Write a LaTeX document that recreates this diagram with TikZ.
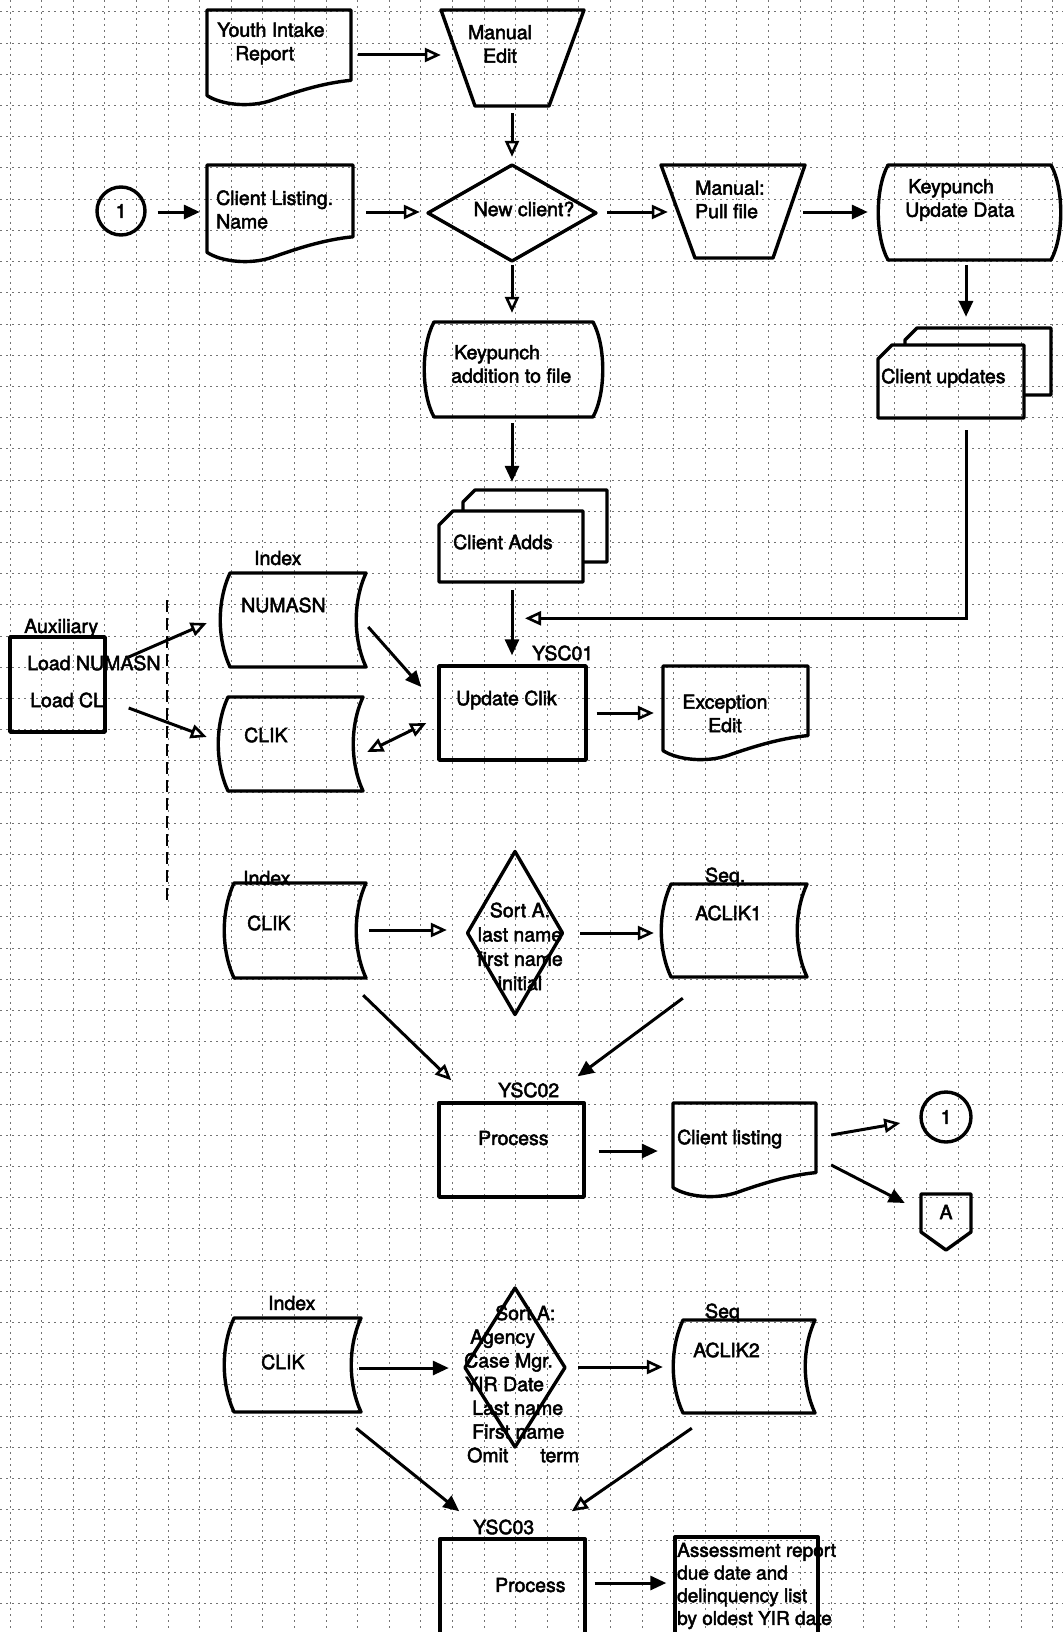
\documentclass[tikz,border=0pt]{standalone}
\usepackage{fontspec}
\setmainfont[FakeBold=2.5]{TeX Gyre Heros}
\usetikzlibrary{arrows.meta,calc}
\newcommand\docshape[5]{%
 \node[box, minimum width={#4-#2}, minimum height={#5-#3}] (#1) at ({(#2+#4)/2},{(#3+#5)/2}) {};
 \draw[ln] (#2,{#3+0.9*(#5-#3)}) -- (#2,#3) -- (#4,#3) -- (#4,{#3+0.74*(#5-#3)})
  .. controls ({#2+0.8*(#4-#2)},{#3+0.77*(#5-#3)}) and ({#2+0.62*(#4-#2)},{#3+0.86*(#5-#3)}) .. ({#2+0.45*(#4-#2)},{#3+0.95*(#5-#3)})
  .. controls ({#2+0.3*(#4-#2)},{#3+1.03*(#5-#3)}) and ({#2+0.1*(#4-#2)},{#3+1.0*(#5-#3)}) .. cycle;}
\newcommand\trapshape[7]{%
 \node[box, minimum width={#3-#2}, minimum height={#7-#4}] (#1) at ({(#2+#3)/2},{(#4+#7)/2}) {};
 \draw[ln] (#2,#4) -- (#3,#4) -- (#6,#7) -- (#5,#7) -- cycle;}
\newcommand\barrelshape[5]{%
 \node[box, minimum width={#4-#2}, minimum height={#5-#3}] (#1) at ({(#2+#4)/2},{(#3+#5)/2}) {};
 \draw[ln] ({#2+10},#3) -- ({#4-10},#3) .. controls ({#4+3},{#3+0.25*(#5-#3)}) and ({#4+3},{#3+0.75*(#5-#3)}) .. ({#4-10},#5)
  -- ({#2+10},#5) .. controls ({#2-3},{#3+0.75*(#5-#3)}) and ({#2-3},{#3+0.25*(#5-#3)}) .. cycle;}
\newcommand\storeshape[5]{%
 \node[box, minimum width={#4-#2}, minimum height={#5-#3}] (#1) at ({(#2+#4)/2},{(#3+#5)/2}) {};
 \draw[ln] ({#2+10},#3) -- (#4,#3) .. controls ({#4-13},{#3+0.3*(#5-#3)}) and ({#4-13},{#3+0.7*(#5-#3)}) .. (#4,#5)
  -- ({#2+10},#5) .. controls ({#2-3},{#3+0.7*(#5-#3)}) and ({#2-3},{#3+0.3*(#5-#3)}) .. cycle;}
\newcommand\cardshape[9]{%
 \node[box, minimum width={#4-#6}, minimum height={#9-#3}] (#1) at ({(#6+#4)/2},{(#3+#9)/2}) {};
 \draw[ln] (#6,{#7+14}) -- ({#6+14},#7) -- (#8,#7) -- (#8,#9) -- (#6,#9) -- cycle;
 \draw[ln] (#2,#7) -- (#2,{#3+12}) -- ({#2+12},#3) -- (#4,#3) -- (#4,#5) -- (#8,#5);}
\newcommand\diamshape[5]{%
 \node[box, minimum width={2*#4}, minimum height={2*#5}] (#1) at (#2,#3) {};
 \draw[ln] (#2,{#3-#5}) -- ({#2+#4},#3) -- (#2,{#3+#5}) -- ({#2-#4},#3) -- cycle;}
\begin{document}
\begin{tikzpicture}[x=1pt,y=-1pt,
  ln/.style={line width=3.4pt, line join=round},
  box/.style={draw=none, inner sep=0pt, rectangle},
  txt/.style={inner sep=0pt, font=\fontsize{19.5}{23.5}\selectfont, align=left},
  arr/.style={line width=3pt, -{Triangle[length=16pt,width=14pt]}},
  arro/.style={line width=3pt, -{Triangle[open,length=16pt,width=14pt,line width=2.6pt]}},
  gridln/.style={black!55, line width=1pt, dash pattern=on 2pt off 4pt}]
\useasboundingbox (0,0) rectangle (1063,1632);
\fill[white] (0,0) rectangle (1063,1632);
% graph paper
\foreach \i in {0,...,33} \draw[gridln] ({10+31.6*\i},0) -- ({10+31.6*\i},1632);
\foreach \j in {0,...,52} \draw[gridln] (0,{12+31.2*\j}) -- (1063,{12+31.2*\j});
\draw[line width=2.4pt, dash pattern=on 12pt off 6pt] (167,600) -- (167,905);

% shapes
\docshape{youth}{207}{10}{351}{105}
\trapshape{manual}{441}{584}{10}{475}{549}{106}
\node[circle, draw, ln, minimum size=48pt, inner sep=0pt, txt] (cA) at (121,211) {1};
\docshape{clist}{207}{165}{353}{262}
\diamshape{newc}{512}{213}{84}{48}
\trapshape{pull}{661}{805}{165}{695}{773}{258}
\barrelshape{kpupd}{878}{165}{1061}{260}
\barrelshape{kpadd}{424}{322}{603}{417}
\cardshape{cupd}{905}{328}{1051}{395}{878}{345}{1024}{418}
\cardshape{cadds}{463}{490}{607}{562}{439}{511}{583}{582}
\storeshape{numasn}{220}{573}{366}{667}
\storeshape{clikA}{218}{697}{363}{791}
\node[box, draw, ln, minimum width=95pt, minimum height=95pt] (aux) at (57.5,684.5) {};
\node[box, draw, ln, minimum width=147pt, minimum height=94pt] (upd) at (512.5,713) {};
\docshape{exc}{663}{666}{808}{760}
\storeshape{clikB}{224}{883}{366}{978}
\diamshape{sortA}{515}{933}{47.5}{81.5}
\storeshape{aclik1}{661}{884}{807}{977}
\node[box, draw, ln, minimum width=145pt, minimum height=94pt] (proc2) at (511.5,1150) {};
\docshape{clisting}{673}{1103}{816}{1197}
\node[circle, draw, ln, minimum size=50pt, inner sep=0pt, txt] (cB) at (946,1117) {1};
\node[box, minimum width=50pt, minimum height=56pt] (offA) at (946,1222) {};
\draw[ln] (921,1194) -- (971,1194) -- (971,1232) -- (946,1250) -- (921,1232) -- cycle;
\storeshape{clikC}{224}{1318}{361}{1412}
\diamshape{sortB}{515}{1367.5}{50}{79.5}
\storeshape{aclik2}{673}{1320}{815}{1413}
\node[box, draw, ln, minimum width=145pt, minimum height=106pt] (proc3) at (512.5,1592) {};
\node[box, draw, ln, minimum width=143pt, minimum height=108pt] (assess) at (746.5,1591) {};

% texts
\node[txt, anchor=west] (youthT) at (217,43.5) {Youth Intake\\\hspace*{18pt}Report};
\node[txt, align=center] (manualT) at (500,44) {Manual\\Edit};
\node[txt, anchor=west] (clistT) at (216,209.5) {Client Listing.\\Name};
\node[txt] (newcT) at (524,209) {New client?};
\node[txt, anchor=west] (pullT) at (695,199.5) {Manual:\\Pull file};
\node[txt, anchor=west] (kpupdT) at (905,200) {\hspace*{3pt}Keypunch\\Update Data};
\node[txt, anchor=west] (kpaddT) at (451,364) {\hspace*{3pt}Keypunch\\addition to file};
\node[txt, anchor=west] (cupdT) at (881,378) {Client updates};
\node[txt, anchor=west] (caddsT) at (453,542) {Client Adds};
\node[txt, anchor=west] (idxA) at (254,558) {Index};
\node[txt, anchor=west] (numasnT) at (241,605) {NUMASN};
\node[txt, anchor=west] (clikAT) at (244,735) {CLIK};
\node[txt, anchor=west] (auxL) at (24,628) {Auxiliary};
\node[txt, anchor=west] (auxT1) at (27,663) {Load NUMASN};
\node[txt, anchor=west] (auxT2) at (30,700) {Load CL};
\node[txt, anchor=west] (ysc01) at (532,653) {YSC01};
\node[txt, anchor=west] (updT) at (456,700) {Update Clik};
\node[txt, align=center] (excT) at (725,713.5) {Exception\\Edit};
\node[txt, anchor=west] (idxB) at (243,878) {Index};
\node[txt, anchor=west] (clikBT) at (247,923) {CLIK};
\node[txt, align=center, font=\fontsize{19.5}{24.3}\selectfont] (sortAT) at (520,946.5) {Sort A.\\last name\\first name\\initial};
\node[txt, anchor=west] (seqA) at (705,877) {Seq.};
\node[txt, anchor=west] (aclik1T) at (695,913) {ACLIK1};
\node[txt, anchor=west] (ysc02) at (498,1090) {YSC02};
\node[txt, anchor=west] (proc2T) at (478,1138) {Process};
\node[txt, anchor=west] (clistingT) at (677,1139) {Client listing};
\node[txt] (offAT) at (946,1212) {A};
\node[txt, anchor=west] (idxC) at (268,1303) {Index};
\node[txt, anchor=west] (clikCT) at (261,1362) {CLIK};
\node[txt, anchor=west, font=\fontsize{19.5}{23.7}\selectfont] (sortBT) at (464,1384) {\hspace*{31pt}Sort A:\\\hspace*{6pt}Agency\\Case Mgr.\\\hspace*{1pt}YIR Date\\\hspace*{8pt}Last name\\\hspace*{8pt}First name\\\hspace*{3pt}Omit\hspace*{32pt}term};
\node[txt, anchor=west] (seqB) at (705,1313) {Seq};
\node[txt, anchor=west] (aclik2T) at (693,1350) {ACLIK2};
\node[txt, anchor=west] (ysc03) at (473,1527) {YSC03};
\node[txt, anchor=west] (proc3T) at (495,1585) {Process};
\node[txt, anchor=west, font=\fontsize{19}{22.7}\selectfont] (assessT) at (677,1586) {Assessment report\\due date and\\delinquency list\\by oldest YIR date};

% connectors
\draw[arro] ($(youth.east)+(7,-2.5)$) -- ($(manual.west)+(0,-3)$);
\draw[arro] ($(manual.south)+(-0.5,7)$) -- ($(newc.north)+(0,-8)$);
\draw[arr] ($(cA.east)+(11,1)$) -- ($(clist.west)+(-7,-1.5)$);
\draw[arro] ($(clist.east)+(13,-1.5)$) -- ($(newc.west)+(-8,-1)$);
\draw[arro] ($(newc.east)+(11,-1)$) -- ($(pull.west)+(7,0.5)$);
\draw[arr] ($(pull.east)+(-2,0.5)$) -- ($(kpupd.west)+(-10,-0.5)$);
\draw[arr] ($(kpupd.south)+(-3.5,5)$) -- ($(cupd.north)+(1.5,-11)$);
\draw[arro] ($(newc.south)+(0,4)$) -- ($(kpadd.north)+(-1.5,-9)$);
\draw[arr] ($(kpadd.south)+(-1.5,6)$) -- ($(cadds.north)+(-11,-8)$);
\draw[arro] ($(cupd.south)+(1.5,12)$) |- ($(upd.north)+(12.5,-46)$);
\draw[arr] ($(cadds.south)+(-11,8)$) -- ($(upd.north)+(-0.5,-9)$);
\draw[arro] ($(aux.east)+(22,-27.5)$) -- ($(numasn.west)+(-13,3)$);
\draw[arro] ($(aux.east)+(22,23.5)$) -- ($(clikA.west)+(-11,-7)$);
\draw[arr] ($(numasn.east)+(2,7)$) -- ($(upd.west)+(-16,-26)$);
\draw[line width=3pt, {Triangle[open,length=16pt,width=14pt,line width=2.6pt]}-{Triangle[open,length=16pt,width=14pt,line width=2.6pt]}] ($(clikA.east)+(4,8)$) -- ($(upd.west)+(-11,10)$);
\draw[arro] ($(upd.east)+(9,0)$) -- ($(exc.west)+(-9,0)$);
\draw[arro] ($(clikB.east)+(3,-0.5)$) -- ($(sortA.west)+(-20.5,-3)$);
\draw[arro] ($(sortA.east)+(17.5,0)$) -- ($(aclik1.west)+(-7,2.5)$);
\draw[arro] ($(clikB.south east)+(-3,17)$) -- ($(proc2.north west)+(14,-21)$);
\draw[arr] ($(aclik1.south west)+(22,21)$) -- ($(proc2.north east)+(-8,-25)$);
\draw[arr] ($(proc2.east)+(13,1)$) -- ($(clisting.west)+(-15,1)$);
\draw[arro] ($(clisting.east)+(15,-15)$) -- ($(cB.west)+(-19,6)$);
\draw[arr] ($(clisting.east)+(15,15)$) -- ($(offA.west)+(-16,-19)$);
\draw[arr] ($(clikC.east)+(-2,3)$) -- ($(sortB.west)+(-16,0.5)$);
\draw[arro] ($(sortB.east)+(13,-0.5)$) -- ($(aclik2.west)+(-10,0.5)$);
\draw[arr] ($(clikC.south east)+(-5,16)$) -- ($(proc3.north west)+(21,-26)$);
\draw[arro] ($(aclik2.south west)+(19,15)$) -- ($(proc3.north east)+(-15,-26)$);
\draw[arr] ($(proc3.east)+(8,-9)$) -- ($(assess.west)+(-7,-8)$);
\end{tikzpicture}
\end{document}
